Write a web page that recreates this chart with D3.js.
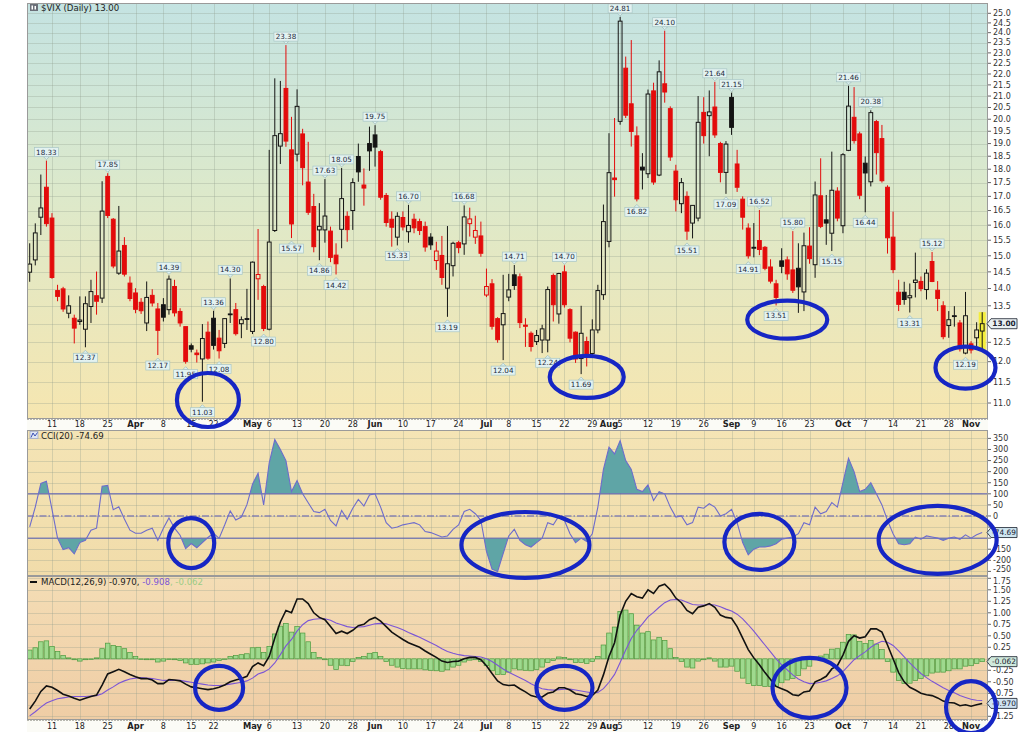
<!DOCTYPE html>
<html><head><meta charset="utf-8">
<script src="https://cdn.jsdelivr.net/npm/d3@7"></script>
<style>
body{margin:0;background:#fff;}
svg{display:block;font-family:"DejaVu Sans",Verdana,sans-serif;}
</style></head><body>
<svg id="chart" width="1024" height="732"></svg>
<script>
// ---------------- DATA ----------------
const dates = [
"2019-03-05","2019-03-06","2019-03-07","2019-03-08","2019-03-11","2019-03-12","2019-03-13","2019-03-14","2019-03-15","2019-03-18",
"2019-03-19","2019-03-20","2019-03-21","2019-03-22","2019-03-25","2019-03-26","2019-03-27","2019-03-28","2019-03-29","2019-04-01",
"2019-04-02","2019-04-03","2019-04-04","2019-04-05","2019-04-08","2019-04-09","2019-04-10","2019-04-11","2019-04-12","2019-04-15",
"2019-04-16","2019-04-17","2019-04-18","2019-04-22","2019-04-23","2019-04-24","2019-04-25","2019-04-26","2019-04-29","2019-04-30",
"2019-05-01","2019-05-02","2019-05-03","2019-05-06","2019-05-07","2019-05-08","2019-05-09","2019-05-10","2019-05-13","2019-05-14",
"2019-05-15","2019-05-16","2019-05-17","2019-05-20","2019-05-21","2019-05-22","2019-05-23","2019-05-24","2019-05-28","2019-05-29",
"2019-05-30","2019-05-31","2019-06-03","2019-06-04","2019-06-05","2019-06-06","2019-06-07","2019-06-10","2019-06-11","2019-06-12",
"2019-06-13","2019-06-14","2019-06-17","2019-06-18","2019-06-19","2019-06-20","2019-06-21","2019-06-24","2019-06-25","2019-06-26",
"2019-06-27","2019-06-28","2019-07-01","2019-07-02","2019-07-03","2019-07-05","2019-07-08","2019-07-09","2019-07-10","2019-07-11",
"2019-07-12","2019-07-15","2019-07-16","2019-07-17","2019-07-18","2019-07-19","2019-07-22","2019-07-23","2019-07-24","2019-07-25",
"2019-07-26","2019-07-29","2019-07-30","2019-07-31","2019-08-01","2019-08-02","2019-08-05","2019-08-06","2019-08-07","2019-08-08",
"2019-08-09","2019-08-12","2019-08-13","2019-08-14","2019-08-15","2019-08-16","2019-08-19","2019-08-20","2019-08-21","2019-08-22",
"2019-08-23","2019-08-26","2019-08-27","2019-08-28","2019-08-29","2019-08-30","2019-09-03","2019-09-04","2019-09-05","2019-09-06",
"2019-09-09","2019-09-10","2019-09-11","2019-09-12","2019-09-13","2019-09-16","2019-09-17","2019-09-18","2019-09-19","2019-09-20",
"2019-09-23","2019-09-24","2019-09-25","2019-09-26","2019-09-27","2019-09-30","2019-10-01","2019-10-02","2019-10-03","2019-10-04",
"2019-10-07","2019-10-08","2019-10-09","2019-10-10","2019-10-11","2019-10-14","2019-10-15","2019-10-16","2019-10-17","2019-10-18",
"2019-10-21","2019-10-22","2019-10-23","2019-10-24","2019-10-25","2019-10-28","2019-10-29","2019-10-30","2019-10-31","2019-11-01",
"2019-11-04","2019-11-05"];

const openP = [
14.49,14.87,16.27,17.33,16.24,13.94,13.99,13.29,13.15,13.06,
12.85,13.48,13.79,13.72,17.73,16.20,14.46,15.33,14.16,13.87,
13.60,13.02,13.80,13.41,13.53,13.39,14.06,13.34,12.92,12.41,
12.22,12.07,12.77,13.15,12.61,12.47,13.27,13.39,13.00,13.14,
12.79,14.29,14.06,12.85,15.82,18.90,21.34,18.75,18.58,19.39,
17.52,16.64,15.84,15.84,15.80,15.02,15.86,16.30,16.50,18.49,
17.41,19.00,19.35,18.68,17.03,16.20,15.60,16.26,15.78,16.20,
16.12,15.95,15.60,14.85,15.01,14.01,14.69,15.42,15.38,16.05,
15.60,15.64,13.81,14.14,13.14,12.97,13.75,14.41,14.35,12.96,
12.74,12.52,12.56,12.56,14.39,13.27,14.50,13.39,12.77,12.08,
12.52,12.21,12.83,13.82,15.46,17.67,19.91,22.27,20.66,19.31,
18.08,17.83,21.23,17.78,21.55,20.45,17.93,16.74,17.00,16.07,
16.24,20.29,20.15,20.52,19.00,17.88,20.94,18.20,16.90,15.90,
15.24,15.49,15.27,14.65,14.14,14.84,14.87,14.56,14.61,13.90,
15.31,14.72,17.02,16.18,15.73,17.19,15.98,18.73,20.08,19.39,
18.23,17.53,19.90,19.20,17.33,15.60,13.89,13.89,13.73,14.18,
14.21,13.97,14.82,13.95,13.50,12.95,13.22,13.02,12.22,12.46,
12.62,12.80];

const highP = [
15.40,16.06,17.80,18.33,16.41,14.11,14.05,13.80,13.25,13.77,
13.77,14.26,14.51,17.55,17.85,16.24,16.66,15.60,14.36,14.01,
13.72,14.21,13.98,13.58,13.72,14.39,14.26,13.43,12.92,12.47,
12.31,12.99,13.06,13.36,12.83,13.15,14.30,13.58,13.20,13.99,
14.82,15.87,14.11,18.75,21.80,21.68,23.38,20.10,21.30,19.60,
19.07,17.09,16.76,17.63,15.95,15.40,18.05,16.47,17.66,19.00,
18.03,19.69,19.75,18.75,17.12,16.47,16.44,16.47,16.70,16.39,
16.22,16.12,15.73,15.45,15.64,15.97,15.45,15.48,16.68,16.60,
16.32,16.12,14.60,14.28,13.18,14.41,14.44,14.71,14.45,13.15,
12.79,12.83,12.97,14.06,14.45,14.47,14.70,13.43,12.79,13.50,
12.65,13.12,14.11,16.71,19.42,20.05,24.81,22.82,23.63,19.70,
18.62,21.29,21.60,22.64,24.10,20.55,18.17,17.67,17.18,16.68,
21.00,20.95,21.25,21.64,19.07,19.10,21.15,18.75,17.00,16.06,
16.07,16.52,15.31,14.89,14.26,15.24,14.98,15.80,15.40,15.75,
15.93,17.54,18.42,17.05,18.68,17.33,18.62,21.46,21.40,19.48,
18.49,20.38,19.97,19.76,17.40,16.46,14.26,14.20,14.15,15.10,
14.36,14.58,15.12,14.22,13.63,13.35,13.49,13.10,13.90,12.53,
13.04,13.32];

const lowP = [
14.20,14.70,15.67,15.95,14.29,13.63,13.33,13.15,12.47,12.97,
12.37,13.02,13.25,13.58,16.24,14.61,14.41,14.36,13.63,13.29,
13.27,12.80,13.48,12.17,13.06,13.25,13.20,12.92,11.95,12.24,
11.98,11.03,12.05,12.31,12.08,12.35,13.02,12.68,12.61,12.83,
12.72,13.67,12.80,12.82,15.77,18.20,18.87,15.57,18.30,17.40,
16.35,15.11,14.86,15.42,14.80,14.42,15.24,15.45,15.84,17.53,
16.67,17.94,18.10,16.88,15.95,15.29,15.33,15.82,15.42,15.73,
15.67,15.13,15.19,14.56,14.11,13.19,14.36,15.08,15.03,15.62,
15.38,14.97,13.75,12.84,12.49,12.04,13.63,13.96,12.88,12.38,
12.26,12.43,12.22,12.24,13.06,13.00,13.45,12.50,11.97,11.69,
11.88,12.14,12.74,13.67,15.27,16.99,19.77,20.05,18.88,16.82,
17.25,17.67,17.42,17.74,20.71,18.32,16.47,16.41,15.51,15.56,
16.13,19.00,18.50,19.23,17.51,17.09,19.35,17.16,15.85,14.91,
14.95,15.02,14.55,14.15,13.51,14.46,14.26,13.87,13.30,13.35,
14.75,14.32,15.90,15.35,15.15,16.13,15.73,18.70,19.00,16.90,
16.44,17.36,17.80,17.50,15.07,14.46,13.35,13.53,13.31,13.74,
13.92,13.68,14.19,13.35,12.58,12.62,12.92,12.26,12.19,12.21,
12.38,12.28];

const closeP = [
14.74,15.74,16.59,16.05,14.33,13.77,13.41,13.50,12.88,13.10,
13.56,13.91,13.63,16.48,16.33,14.68,15.15,14.43,13.71,13.40,
13.36,13.74,13.58,12.82,13.18,14.28,13.30,13.02,12.01,12.32,
12.18,12.60,12.09,12.42,12.28,13.14,13.25,12.73,13.11,13.12,
14.80,14.42,12.87,15.44,19.32,19.40,19.10,16.04,20.55,18.06,
16.44,15.29,15.96,16.31,14.95,14.75,16.92,15.85,17.50,17.90,
17.30,18.71,18.86,16.97,16.09,15.93,16.30,15.94,15.99,15.91,
15.82,15.28,15.35,15.15,14.33,14.75,15.40,15.26,16.28,16.21,
15.82,15.08,14.06,12.93,12.57,13.28,13.96,14.09,13.03,12.93,
12.39,12.68,12.86,13.97,13.53,14.45,13.53,12.61,12.07,12.74,
12.16,12.83,13.94,16.12,17.87,17.61,24.59,20.17,19.49,16.91,
17.97,21.09,17.52,22.10,21.18,18.47,16.88,17.50,15.80,16.68,
19.87,19.32,20.31,19.35,17.88,18.98,19.66,17.33,16.27,15.00,
15.27,15.20,14.61,14.22,13.74,14.67,14.44,13.95,14.05,15.32,
14.91,17.05,15.96,16.07,17.22,16.24,18.56,20.56,19.12,17.04,
17.86,20.28,18.64,17.57,15.58,14.57,13.54,13.68,13.79,14.25,
14.00,14.46,14.21,13.71,12.65,13.11,13.20,12.33,13.22,12.30,
12.83,13.00];

const cci = [
-49,40,147,157,30,-100,-152,-143,-171,-120,
-110,-64,-55,134,138,28,42,-14,-64,-78,
-78,-64,-55,-110,-55,-9,-55,-87,-147,-124,
-143,-120,-97,-78,-101,-41,23,-18,-5,51,
143,193,50,240,345,300,250,110,160,100,
60,20,15,30,-20,-45,25,-15,35,75,
45,95,100,40,-30,-55,-50,-40,-35,-30,
-40,-70,-75,-85,-95,-90,-60,-40,20,30,
10,-20,-160,-240,-250,-170,-90,-60,-110,-130,
-140,-120,-100,-30,-40,0,-20,-80,-120,-100,
-115,-80,40,210,310,280,340,250,210,120,
110,140,70,110,100,40,-5,0,-40,-30,
40,35,55,40,0,10,30,-30,-120,-175,
-150,-140,-140,-135,-125,-105,-100,-95,-80,-30,
-40,40,10,20,60,40,150,260,200,110,
120,150,100,50,-20,-80,-125,-130,-125,-95,
-105,-90,-95,-100,-110,-100,-95,-105,-85,-100,
-85,-74.69];

const macd = [
-1.09,-0.92,-0.71,-0.59,-0.62,-0.69,-0.77,-0.81,-0.86,-0.90,
-0.86,-0.82,-0.79,-0.57,-0.33,-0.28,-0.23,-0.28,-0.34,-0.39,
-0.43,-0.43,-0.46,-0.54,-0.54,-0.45,-0.46,-0.48,-0.55,-0.61,
-0.63,-0.65,-0.67,-0.65,-0.62,-0.57,-0.50,-0.46,-0.43,-0.38,
-0.17,-0.09,-0.15,0.05,0.45,0.80,1.05,1.00,1.30,1.30,
1.20,1.00,0.90,0.85,0.70,0.55,0.60,0.55,0.62,0.72,
0.75,0.85,0.90,0.82,0.70,0.58,0.50,0.42,0.35,0.30,
0.25,0.17,0.10,0.03,-0.05,-0.08,-0.06,-0.05,0.00,0.03,
0.03,-0.02,-0.15,-0.32,-0.48,-0.56,-0.58,-0.57,-0.65,-0.72,
-0.80,-0.83,-0.83,-0.75,-0.72,-0.63,-0.63,-0.68,-0.76,-0.78,
-0.82,-0.80,-0.68,-0.35,0.05,0.35,0.95,1.25,1.42,1.35,
1.32,1.50,1.42,1.58,1.62,1.50,1.32,1.22,1.05,0.98,
1.12,1.15,1.20,1.12,0.95,0.90,0.88,0.70,0.45,0.20,
0.02,-0.13,-0.30,-0.45,-0.60,-0.65,-0.70,-0.78,-0.80,-0.72,
-0.70,-0.50,-0.45,-0.38,-0.22,-0.15,0.08,0.38,0.50,0.45,
0.48,0.65,0.65,0.58,0.30,0.00,-0.30,-0.50,-0.62,-0.68,
-0.75,-0.78,-0.80,-0.85,-0.92,-0.95,-0.96,-1.02,-1.00,-1.03,
-1.00,-0.970];

const signal = [
-1.24,-1.15,-1.05,-0.96,-0.91,-0.87,-0.85,-0.83,-0.82,-0.82,
-0.82,-0.81,-0.80,-0.76,-0.68,-0.61,-0.53,-0.48,-0.44,-0.42,
-0.41,-0.42,-0.43,-0.45,-0.47,-0.47,-0.47,-0.47,-0.49,-0.51,
-0.53,-0.55,-0.57,-0.58,-0.58,-0.57,-0.55,-0.53,-0.51,-0.48,
-0.42,-0.33,-0.29,-0.22,-0.09,0.09,0.28,0.42,0.60,0.74,
0.83,0.86,0.87,0.87,0.84,0.78,0.74,0.70,0.68,0.69,
0.70,0.73,0.76,0.77,0.76,0.72,0.68,0.63,0.57,0.52,
0.47,0.41,0.35,0.29,0.22,0.16,0.12,0.09,0.07,0.06,
0.05,0.04,0.00,-0.06,-0.14,-0.22,-0.29,-0.35,-0.41,-0.47,
-0.54,-0.60,-0.65,-0.67,-0.68,-0.67,-0.66,-0.66,-0.68,-0.70,
-0.72,-0.74,-0.73,-0.65,-0.51,-0.34,-0.08,0.19,0.44,0.62,
0.76,0.91,1.01,1.12,1.22,1.28,1.29,1.28,1.23,1.18,
1.17,1.17,1.18,1.17,1.13,1.08,1.04,0.97,0.87,0.74,
0.60,0.45,0.30,0.15,0.00,-0.13,-0.24,-0.35,-0.44,-0.50,
-0.54,-0.53,-0.51,-0.48,-0.43,-0.37,-0.28,-0.15,-0.02,0.07,
0.15,0.25,0.33,0.38,0.36,0.29,0.17,0.04,-0.09,-0.21,
-0.32,-0.41,-0.49,-0.56,-0.63,-0.69,-0.74,-0.80,-0.84,-0.88,
-0.90,-0.908];

const hist = [
0.19,0.24,0.37,0.39,0.27,0.16,0.07,0.02,-0.02,-0.05,
-0.02,0.00,0.02,0.22,0.34,0.29,0.27,0.22,0.14,0.05,
0.00,-0.02,-0.02,-0.07,-0.05,0.00,-0.02,-0.04,-0.09,-0.12,
-0.12,-0.11,-0.09,-0.07,-0.04,0.00,0.05,0.07,0.09,0.11,
0.24,0.25,0.14,0.27,0.54,0.71,0.77,0.58,0.70,0.56,
0.37,0.14,0.03,-0.02,-0.14,-0.23,-0.14,-0.15,-0.06,0.03,
0.05,0.12,0.14,0.05,-0.06,-0.14,-0.18,-0.21,-0.22,-0.22,
-0.22,-0.24,-0.25,-0.26,-0.27,-0.24,-0.18,-0.14,-0.07,-0.03,
-0.02,-0.06,-0.15,-0.26,-0.34,-0.34,-0.29,-0.22,-0.24,-0.25,
-0.26,-0.23,-0.18,-0.08,-0.04,0.04,0.03,-0.02,-0.08,-0.08,
-0.10,-0.06,0.05,0.30,0.56,0.69,1.03,1.06,0.98,0.73,
0.56,0.59,0.41,0.46,0.40,0.22,0.03,-0.06,-0.18,-0.20,
-0.05,-0.02,0.02,-0.05,-0.18,-0.18,-0.16,-0.27,-0.42,-0.54,
-0.58,-0.58,-0.60,-0.60,-0.60,-0.52,-0.46,-0.43,-0.36,-0.22,
-0.16,0.03,0.06,0.10,0.21,0.22,0.36,0.53,0.52,0.38,
0.33,0.40,0.32,0.20,-0.06,-0.29,-0.47,-0.54,-0.53,-0.47,
-0.43,-0.37,-0.31,-0.29,-0.29,-0.26,-0.22,-0.22,-0.16,-0.15,
-0.10,-0.062];

const peakDates = ["2019-03-08","2019-03-25","2019-04-09","2019-04-22","2019-04-25","2019-05-09","2019-05-20","2019-05-23","2019-06-03","2019-06-11","2019-06-25","2019-07-09","2019-07-22","2019-08-05","2019-08-15","2019-08-28","2019-09-03","2019-09-10","2019-09-18","2019-10-02","2019-10-08","2019-10-23"];
const peakValues = [18.33,17.85,14.39,13.36,14.30,23.38,17.63,18.05,19.75,16.70,16.68,14.71,14.70,24.81,24.10,21.64,21.15,16.52,15.80,21.46,20.38,15.12];
const troughDates = ["2019-03-19","2019-04-05","2019-04-12","2019-04-17","2019-04-23","2019-05-03","2019-05-10","2019-05-17","2019-05-22","2019-06-07","2019-06-20","2019-07-05","2019-07-17","2019-07-25","2019-08-08","2019-08-21","2019-08-30","2019-09-06","2019-09-13","2019-09-27","2019-10-07","2019-10-17","2019-10-31"];
const troughValues = [12.37,12.17,11.95,11.03,12.08,12.80,15.57,14.86,14.42,15.33,13.19,12.04,12.24,11.69,16.82,15.51,17.09,14.91,13.51,15.15,16.44,13.31,12.19];

const priceTicks = [11.0,11.5,12.0,12.5,13.0,13.5,14.0,14.5,15.0,15.5,16.0,16.5,17.0,17.5,18.0,18.5,19.0,19.5,20.0,20.5,21.0,21.5,22.0,22.5,23.0,23.5,24.0,24.5,25.0];
const cciTicks = [350,300,250,200,150,100,50,0,-50,-100,-150,-200,-250];
const macdTicks = [1.75,1.50,1.25,1.00,0.75,0.50,0.25,0.00,-0.25,-0.50,-0.75,-1.00,-1.25];
const dateTicks = ["2019-03-11","2019-03-18","2019-03-25","2019-04-01","2019-04-08","2019-04-15","2019-04-22","2019-05-01","2019-05-06","2019-05-13","2019-05-20","2019-05-28","2019-06-03","2019-06-10","2019-06-17","2019-06-24","2019-07-01","2019-07-08","2019-07-15","2019-07-22","2019-07-29","2019-08-01","2019-08-05","2019-08-12","2019-08-19","2019-08-26","2019-09-03","2019-09-09","2019-09-16","2019-09-23","2019-10-01","2019-10-07","2019-10-14","2019-10-21","2019-10-28","2019-11-01"];
const dateTickLabels = ["11","18","25","Apr","8","15","22","May","6","13","20","28","Jun","10","17","24","Jul","8","15","22","29","Aug","5","12","19","26","Sep","9","16","23","Oct","7","14","21","28","Nov"];

// hand-drawn annotation ellipses (panel, date, value, rx, ry)
const annotations = [
 ["price","2019-04-18",11.07,31,27],["price","2019-07-26",11.62,37,21],["price","2019-09-17",13.11,40,19],["price","2019-10-31",11.85,30,21],
 ["cci","2019-04-15",-122,23,25],["cci","2019-07-11",-131,64,33],["cci","2019-09-10",-117,35,28],["cci","2019-10-24",-108,59,34],
 ["macd","2019-04-23",-0.63,24,22],["macd","2019-07-22",-0.63,28,22],["macd","2019-09-23",-0.63,37,30],["macd","2019-11-01",-1.05,25,26]
];

// ---------------- LAYOUT ----------------
const svg = d3.select('#chart');
const X0 = 27, X1 = 988;
const P = {price:{y0:3,y1:419}, cci:{y0:430,y1:576}, macd:{y0:576,y1:720}};
const x = d3.scalePoint().domain(dates).range([29.7, 982.2]);
const yP = d3.scaleLog().domain([11,25]).range([403,13.3]);
const yC = d3.scaleLinear().domain([-250,350]).range([571.4,438.4]);
const yM = d3.scaleLinear().domain([-1.25,1.75]).range([716.3,578.3]);
const F = '"DejaVu Sans",Verdana,sans-serif';
const last = dates.length-1;

svg.append('rect').attr('width',1024).attr('height',732).attr('fill','#fff');
const defs = svg.append('defs');
function grad(id, stops){
  const g = defs.append('linearGradient').attr('id',id).attr('x1',0).attr('y1',0).attr('x2',0).attr('y2',1);
  stops.forEach(([o,c])=>g.append('stop').attr('offset',o).attr('stop-color',c));
}
grad('gTop',[[0,'#c4e3e2'],[0.45,'#dce9cb'],[1,'#f6e6b0']]);
grad('gCci',[[0,'#f4e4b5'],[1,'#f1dcaa']]);
grad('gMacd',[[0,'#f4ddb5'],[1,'#efcda5']]);
function clip(id,x0,y0,w,h){ defs.append('clipPath').attr('id',id).append('rect').attr('x',x0).attr('y',y0).attr('width',w).attr('height',h); }
clip('cpPrice',X0,P.price.y0,X1-X0,P.price.y1-P.price.y0);
clip('cpCci',X0,P.cci.y0,X1-X0,P.cci.y1-P.cci.y0);
clip('cpMacd',X0,P.macd.y0,X1-X0,P.macd.y1-P.macd.y0);
clip('cpCciUp',X0,P.cci.y0,X1-X0,yC(100)-P.cci.y0);
clip('cpCciDn',X0,yC(-100),X1-X0,P.cci.y1-yC(-100));

// backgrounds
[['price','gTop'],['cci','gCci'],['macd','gMacd']].forEach(([k,g])=>{
  svg.append('rect').attr('x',X0).attr('y',P[k].y0).attr('width',X1-X0).attr('height',P[k].y1-P[k].y0).attr('fill',`url(#${g})`);
});
// grids
const grid = svg.append('g').attr('stroke','#8f9c8c').attr('stroke-opacity',0.3).attr('stroke-width',1);
priceTicks.forEach(t=>grid.append('line').attr('x1',X0).attr('x2',X1).attr('y1',Math.round(yP(t))+0.5).attr('y2',Math.round(yP(t))+0.5));
cciTicks.forEach(t=>grid.append('line').attr('x1',X0).attr('x2',X1).attr('y1',Math.round(yC(t))+0.5).attr('y2',Math.round(yC(t))+0.5));
macdTicks.forEach(t=>grid.append('line').attr('x1',X0).attr('x2',X1).attr('y1',Math.round(yM(t))+0.5).attr('y2',Math.round(yM(t))+0.5));
dateTicks.forEach(d=>{
  const xx = Math.round(x(d))+0.5;
  ['price','cci','macd'].forEach(k=>grid.append('line').attr('x1',xx).attr('x2',xx).attr('y1',P[k].y0).attr('y2',P[k].y1));
});

// ---------------- PRICE PANEL ----------------
const gP = svg.append('g').attr('clip-path','url(#cpPrice)');
gP.append('rect').attr('x',x(dates[last])-3.5).attr('width',7)
  .attr('y',yP(highP[last])).attr('height',yP(lowP[last])-yP(highP[last])).attr('fill','#f4ee3a');
dates.forEach((d,i)=>{
  const o=openP[i], c=closeP[i], h=highP[i], l=lowP[i];
  const pc = i>0 ? closeP[i-1] : o;
  const col = c >= pc ? '#141414' : '#e30b0b';
  const filled = c < o;
  const cx = x(d);
  const top = yP(Math.max(o,c)), bot = yP(Math.min(o,c));
  gP.append('line').attr('x1',cx).attr('x2',cx).attr('y1',yP(h)).attr('y2',top).attr('stroke',col).attr('stroke-width',1);
  gP.append('line').attr('x1',cx).attr('x2',cx).attr('y1',bot).attr('y2',yP(l)).attr('stroke',col).attr('stroke-width',1);
  gP.append('rect').attr('x',cx-1.9).attr('width',3.8).attr('y',top).attr('height',Math.max(0.8,bot-top))
    .attr('fill',filled?col:'none').attr('stroke',col).attr('stroke-width',1);
});

// peak / trough labels
function priceLabel(d,v,isHigh){
  const cx = x(d), vy = yP(v);
  const cy = isHigh ? vy-8.5 : vy+10.5;
  const w = 24, h = 9;
  const g = svg.append('g');
  const tip = isHigh ? `M${cx-3},${cy+h/2} L${cx},${cy+h/2+3} L${cx+3},${cy+h/2} Z` : `M${cx-3},${cy-h/2} L${cx},${cy-h/2-3} L${cx+3},${cy-h/2} Z`;
  g.append('path').attr('d',tip).attr('fill','#dcefee').attr('stroke','#9dbcbc').attr('stroke-width',0.7);
  g.append('rect').attr('x',cx-w/2).attr('y',cy-h/2).attr('width',w).attr('height',h).attr('fill','#e3f2f1').attr('stroke','#a8c6c6').attr('stroke-width',0.7);
  g.append('text').attr('x',cx).attr('y',cy).attr('dy','0.35em').attr('text-anchor','middle')
    .attr('font-size',7.2).attr('fill','#1d2a3c').attr('font-family',F).text(v.toFixed(2));
}
peakDates.forEach((d,k)=>priceLabel(d,peakValues[k],true));
troughDates.forEach((d,k)=>priceLabel(d,troughValues[k],false));

// ---------------- CCI PANEL ----------------
const gC = svg.append('g').attr('clip-path','url(#cpCci)');
const xi = (d,i)=>x(dates[i]);
const areaUp = d3.area().x(xi).y0(yC(100)).y1(v=>yC(v));
const areaDn = d3.area().x(xi).y0(yC(-100)).y1(v=>yC(v));
gC.append('path').datum(cci).attr('d',areaUp).attr('fill','#5fa5a6').attr('clip-path','url(#cpCciUp)');
gC.append('path').datum(cci).attr('d',areaDn).attr('fill','#5fa5a6').attr('clip-path','url(#cpCciDn)');
[100,-100].forEach(t=>gC.append('line').attr('x1',X0).attr('x2',X1).attr('y1',yC(t)).attr('y2',yC(t)).attr('stroke','#5c5cb4').attr('stroke-width',1));
gC.append('line').attr('x1',X0).attr('x2',X1).attr('y1',yC(0)).attr('y2',yC(0)).attr('stroke','#5c5cb4').attr('stroke-width',1).attr('stroke-dasharray','7,2,1.5,2');
gC.append('path').datum(cci).attr('d',d3.line().x(xi).y(v=>yC(v))).attr('fill','none').attr('stroke','#6d6ccc').attr('stroke-width',1.1);

// ---------------- MACD PANEL ----------------
const gM = svg.append('g').attr('clip-path','url(#cpMacd)');
hist.forEach((v,i)=>{
  const cx = x(dates[i]);
  const y0 = yM(0), y1 = yM(v);
  gM.append('rect').attr('x',cx-2.3).attr('width',4.6).attr('y',Math.min(y0,y1)).attr('height',Math.max(0.6,Math.abs(y1-y0)))
    .attr('fill','#9fd98e').attr('stroke','#4c9a3e').attr('stroke-width',0.7);
});
gM.append('path').datum(signal).attr('d',d3.line().x(xi).y(v=>yM(v))).attr('fill','none').attr('stroke','#7b55d6').attr('stroke-width',1.1);
gM.append('path').datum(macd).attr('d',d3.line().x(xi).y(v=>yM(v))).attr('fill','none').attr('stroke','#111').attr('stroke-width',1.6);

// panel borders
['price','cci','macd'].forEach(k=>svg.append('rect').attr('x',X0+0.5).attr('y',P[k].y0+0.5).attr('width',X1-X0-1).attr('height',P[k].y1-P[k].y0-1)
  .attr('fill','none').attr('stroke','#9a9a9a').attr('stroke-width',1));

// ---------------- RIGHT AXES ----------------
// value boxes hide the tick labels they sit on (as in the original)
const boxes = {
  price:[yP(closeP[last])],
  cci:[yC(cci[last])],
  macd:[yM(hist[last]), yM(macd[last])]
};
// keep the labels at the shared panel edge from colliding
function edgeNudge(yy){
  if (Math.abs(yy - P.cci.y1) < 6) return yy < P.cci.y1 ? -2.5 : 2.5;
  return 0;
}
function rightAxis(ticks, scale, fmt, hideAt){
  const g = svg.append('g').attr('font-family',F).attr('font-size',8).attr('fill','#333');
  ticks.forEach(t=>{
    const yy = scale(t);
    g.append('line').attr('x1',X1).attr('x2',X1+3).attr('y1',yy).attr('y2',yy).attr('stroke','#666');
    if (hideAt.some(b=>Math.abs(b-yy) < 7.5)) return;
    g.append('text').attr('x',X1+5).attr('y',yy+edgeNudge(yy)).attr('dy','0.35em').text(fmt(t));
  });
}
rightAxis(priceTicks, yP, t=>t.toFixed(1), boxes.price);
rightAxis(cciTicks, yC, t=>String(t), boxes.cci);
rightAxis(macdTicks, yM, t=>t.toFixed(2), boxes.macd);

function valueBox(cy, text, fill, bold, color){
  const x0 = X1-1;
  svg.append('path').attr('d',`M${x0},${cy} L${x0+4},${cy-5} L${x0+30},${cy-5} L${x0+30},${cy+5} L${x0+4},${cy+5} Z`)
    .attr('fill',fill).attr('stroke','#2b3340').attr('stroke-width',0.9);
  svg.append('text').attr('x',x0+17).attr('y',cy).attr('dy','0.35em').attr('text-anchor','middle')
    .attr('font-family',F).attr('font-size',7.4).attr('font-weight',bold?'bold':'normal').attr('fill',color||'#1a2230').text(text);
}
valueBox(yP(closeP[last]), closeP[last].toFixed(2), '#e9f0f2', true);
valueBox(yC(cci[last]), cci[last].toFixed(2), '#cfe6f0', false);
valueBox(yM(hist[last]), hist[last].toFixed(3), '#cfe9dc', false);
valueBox(yM(macd[last]), macd[last].toFixed(3), '#cfe3f2', false);

// ---------------- DATE STRIPS ----------------
function dateStrip(y0, y1){
  svg.append('rect').attr('x',X0).attr('y',y0).attr('width',X1-X0).attr('height',y1-y0).attr('fill','#fbfbf6');
  svg.append('line').attr('x1',X0).attr('x2',X1).attr('y1',y0+0.5).attr('y2',y0+0.5).attr('stroke','#b8b8b0').attr('stroke-dasharray','2,1');
  const g = svg.append('g').attr('font-family',F).attr('font-size',8).attr('fill','#222');
  dateTicks.forEach((d,k)=>{
    const lab = dateTickLabels[k];
    const isMonth = isNaN(+lab);
    g.append('text').attr('x',x(d)).attr('y',(y0+y1)/2).attr('dy','0.35em').attr('text-anchor','middle')
      .attr('font-weight',isMonth?'bold':'normal').attr('font-size',isMonth?8.3:8).text(lab);
  });
}
dateStrip(P.price.y1, P.cci.y0);
dateStrip(P.macd.y1, 732);

// ---------------- TITLES ----------------
const ic = svg.append('g');
ic.append('rect').attr('x',30).attr('y',4).attr('width',8).attr('height',7).attr('fill','#6b6f78');
ic.append('rect').attr('x',31.5).attr('y',5.5).attr('width',1.5).attr('height',4).attr('fill','#fff');
ic.append('rect').attr('x',34.5).attr('y',6).attr('width',1.5).attr('height',3.5).attr('fill','#fff');
svg.append('text').attr('x',41).attr('y',8).attr('dy','0.35em').attr('font-family',F).attr('font-size',8.6).attr('fill','#1c1c1c').text('$VIX (Daily) 13.00');
svg.append('rect').attr('x',30).attr('y',431.5).attr('width',8).attr('height',7).attr('fill','#dfe6f3').attr('stroke','#8c9ac8').attr('stroke-width',0.6);
svg.append('path').attr('d','M31,437.5 L33,433 L35,436 L37.5,432.5').attr('fill','none').attr('stroke','#3a4fb5').attr('stroke-width',1);
svg.append('text').attr('x',41).attr('y',435.5).attr('dy','0.35em').attr('font-family',F).attr('font-size',8.6).attr('fill','#1c1c1c')
  .text('CCI(20) ' + cci[last].toFixed(2));
svg.append('line').attr('x1',30).attr('x2',37).attr('y1',582).attr('y2',582).attr('stroke','#111').attr('stroke-width',2);
const mt = svg.append('text').attr('x',41).attr('y',582).attr('dy','0.35em').attr('font-family',F).attr('font-size',8.6);
mt.append('tspan').attr('fill','#1c1c1c').text('MACD(12,26,9) ' + macd[last].toFixed(3) + ', ');
mt.append('tspan').attr('fill','#7b55d6').text(signal[last].toFixed(3));
mt.append('tspan').attr('fill','#9ccc86').text(', ' + hist[last].toFixed(3));

// ---------------- ANNOTATIONS ----------------
const scales = {price:yP, cci:yC, macd:yM};
annotations.forEach(([k,d,v,rx,ry])=>{
  svg.append('ellipse').attr('cx',x(d)).attr('cy',scales[k](v)).attr('rx',rx).attr('ry',ry)
    .attr('fill','none').attr('stroke','#1626c4').attr('stroke-width',4.2);
});
</script>
</body></html>
